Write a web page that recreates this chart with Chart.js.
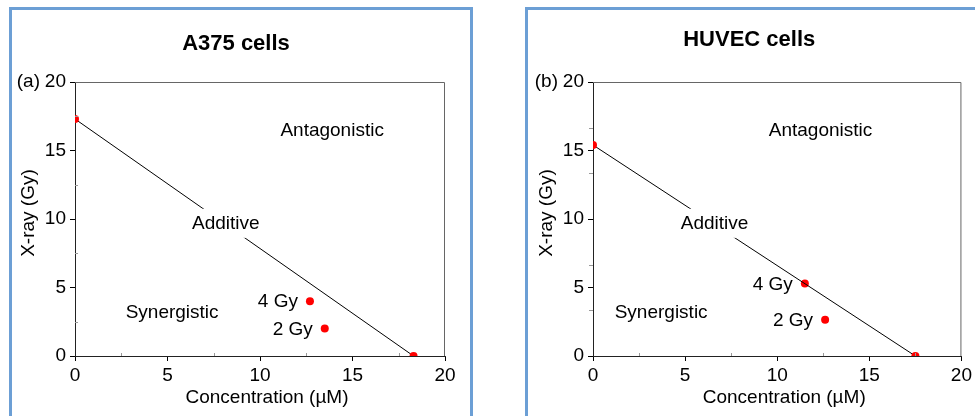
<!DOCTYPE html>
<html>
<head>
<meta charset="utf-8">
<script src="https://cdn.jsdelivr.net/npm/chart.js@4"></script>
<style>
  body { margin: 0; background: #fff; width: 975px; height: 416px; overflow: hidden; position: relative; }
  .frame { position: absolute; top: 7px; height: 420px; border: 3px solid #6c9fd5; box-sizing: border-box; }
  canvas { position: absolute; }
</style>
</head>
<body>
<div class="frame" style="left:9px; width:464px;"></div>
<div class="frame" style="left:525px; width:470px;"></div>
<canvas id="chartA" width="458" height="406" style="left:12px; top:10px;"></canvas>
<canvas id="chartB" width="447" height="406" style="left:528px; top:10px;"></canvas>
<script>
// axis ticks
const majorTicks = [0, 5, 10, 15, 20];
const minorX = [2.5, 7.5, 12.5, 17.5];
const minorYa = [2.5, 7.5, 12.5, 17.5];
const minorYb = [3.33, 6.67, 13.33, 16.67];

// A375: single-agent doses (isobole ends) and combinations
const a375IsoX = [0, 18.3];
const a375IsoY = [17.3, 0];
const a375ComboX = [12.7, 13.5];
const a375ComboY = [4, 2];

// HUVEC
const huvecIsoX = [0, 17.5];
const huvecIsoY = [15.4, 0];
const huvecComboX = [11.5, 12.6];
const huvecComboY = [5.3, 2.65];

const comboLabels = ["4 Gy", "2 Gy"];
const regionNames = ["Antagonistic", "Additive", "Synergistic"];
// label anchors in data units [x, y]
const a375RegionPos = [[13.9, 16.5], [8.15, 9.72], [5.25, 3.23]];
const huvecRegionPos = [[12.35, 16.5], [6.6, 9.72], [3.7, 3.23]];

const FONT = "'Liberation Sans', Arial, sans-serif";

function toPoints(xs, ys) {
  return xs.map((x, i) => ({ x: x, y: ys[i] }));
}

const panelText = {
  id: "panelText",
  afterDatasetsDraw(chart, args, opts) {
    const ctx = chart.ctx;
    const area = chart.chartArea;
    const xs = chart.scales.x, ys = chart.scales.y;
    ctx.save();

    // plot frame (top / right)
    ctx.strokeStyle = "#666";
    ctx.lineWidth = 1;
    ctx.beginPath();
    ctx.moveTo(area.left, area.top + 0.5);
    ctx.lineTo(area.right - 0.5, area.top + 0.5);
    ctx.lineTo(area.right - 0.5, area.bottom);
    ctx.stroke();

    // minor ticks
    ctx.strokeStyle = "#999";
    opts.minorX.forEach(v => {
      const px = Math.round(xs.getPixelForValue(v)) + 0.5;
      ctx.beginPath();
      ctx.moveTo(px, area.bottom);
      ctx.lineTo(px, area.bottom - 3);
      ctx.stroke();
    });
    opts.minorY.forEach(v => {
      const py = Math.round(ys.getPixelForValue(v)) + 0.5;
      const len = opts.minorYOut ? -4 : 3;
      ctx.beginPath();
      ctx.moveTo(area.left, py);
      ctx.lineTo(area.left + len, py);
      ctx.stroke();
    });

    ctx.fillStyle = "#000";
    ctx.font = "19px " + FONT;
    ctx.textBaseline = "middle";

    // region labels
    opts.regionPos.forEach((p, i) => {
      const px = xs.getPixelForValue(p[0]);
      const py = ys.getPixelForValue(p[1]);
      ctx.textAlign = "center";
      if (i === 1) {
        const w = ctx.measureText(regionNames[i]).width;
        ctx.fillStyle = "#fff";
        ctx.fillRect(px - w / 2 - 4, py - 14, w + 8, 29);
        ctx.fillStyle = "#000";
      }
      ctx.fillText(regionNames[i], px, py + 1);
    });

    // combination labels
    ctx.textAlign = "right";
    opts.comboX.forEach((x, i) => {
      ctx.fillText(comboLabels[i], xs.getPixelForValue(x) - 12, ys.getPixelForValue(opts.comboY[i]) + 1);
    });

    // panel letter
    ctx.fillText(opts.letter, area.left - 35, area.top);

    // axis titles
    ctx.textAlign = "center";
    ctx.fillText("Concentration (\u00b5M)", (area.left + area.right) / 2 + 7, area.bottom + 42);
    ctx.save();
    ctx.translate(area.left - 46, (area.top + area.bottom) / 2 - 6);
    ctx.rotate(-Math.PI / 2);
    ctx.fillText("X-ray (Gy)", 0, 0);
    ctx.restore();

    // title
    ctx.font = "bold 22px " + FONT;
    ctx.fillText(opts.title, (area.left + area.right) / 2 + opts.titleDx, opts.titleY);

    ctx.restore();
  }
};

function makeChart(id, isoX, isoY, comboX, comboY, extra) {
  const ctx = document.getElementById(id).getContext("2d");
  return new Chart(ctx, {
    type: "scatter",
    data: {
      datasets: [{
        label: "Additive line",
        data: toPoints(isoX, isoY),
        showLine: true,
        borderColor: "#000",
        borderWidth: 1,
        pointRadius: 4,
        pointBackgroundColor: "#ff0000",
        pointBorderWidth: 0
      }, {
        label: "Combination",
        data: toPoints(comboX, comboY),
        pointRadius: 4,
        pointBackgroundColor: "#ff0000",
        pointBorderWidth: 0
      }]
    },
    options: {
      responsive: false,
      animation: false,
      layout: { padding: { top: 72, right: extra.padRight, left: 0, bottom: 0 } },
      plugins: {
        legend: { display: false },
        tooltip: { enabled: false },
        panelText: {
          title: extra.title,
          titleY: extra.titleY,
          titleDx: extra.titleDx,
          letter: extra.letter,
          regionPos: extra.regionPos,
          comboX: comboX,
          comboY: comboY,
          minorX: minorX,
          minorY: extra.minorY,
          minorYOut: extra.minorYOut
        }
      },
      scales: {
        x: {
          type: "linear",
          min: 0, max: 20,
          afterBuildTicks: s => { s.ticks = majorTicks.map(v => ({ value: v })); },
          afterFit: s => { s.height = 60; },
          grid: { drawOnChartArea: false, tickLength: 5, color: "#000" },
          border: { color: "#222", width: 1 },
          ticks: { color: "#000", font: { size: 19, family: FONT }, padding: 3, maxRotation: 0 }
        },
        y: {
          type: "linear",
          min: 0, max: 20,
          afterBuildTicks: s => { s.ticks = majorTicks.map(v => ({ value: v })); },
          afterFit: s => { s.width = extra.axisWidth; },
          grid: { drawOnChartArea: false, tickLength: 5, color: "#000" },
          border: { color: "#222", width: 1 },
          ticks: { color: "#000", font: { size: 19, family: FONT }, padding: 4 }
        }
      }
    },
    plugins: [panelText]
  });
}

makeChart("chartA", a375IsoX, a375IsoY, a375ComboX, a375ComboY, {
  title: "A375 cells", titleY: 34, titleDx: -24, letter: "(a)", regionPos: a375RegionPos,
  minorY: minorYa, minorYOut: false, padRight: 25, axisWidth: 63
});
makeChart("chartB", huvecIsoX, huvecIsoY, huvecComboX, huvecComboY, {
  title: "HUVEC cells", titleY: 30, titleDx: -28, letter: "(b)", regionPos: huvecRegionPos,
  minorY: minorYb, minorYOut: true, padRight: 13, axisWidth: 65
});
</script>
</body>
</html>
